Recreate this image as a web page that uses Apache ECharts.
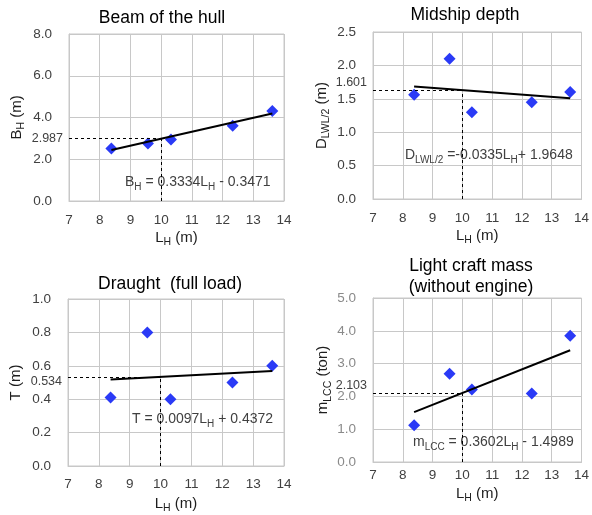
<!DOCTYPE html>
<html><head><meta charset="utf-8">
<script src="https://cdn.jsdelivr.net/npm/echarts@6/dist/echarts.min.js"></script>
<style>html,body{margin:0;padding:0;background:#fff}#c{width:592px;height:515px}</style>
</head><body><div id="c"></div>
<script>
// ---- data ----
const lengthH  = [8.38, 9.57, 10.32, 12.33, 13.62];      // L_H (m)
const beamH    = [2.52, 2.76, 2.95, 3.60, 4.31];          // B_H (m)
const depthD   = [1.56, 2.10, 1.30, 1.45, 1.60];          // D_LWL/2 (m)
const draughtT = [0.41, 0.80, 0.40, 0.50, 0.60];          // T (m)
const massLCC  = [1.12, 2.69, 2.21, 2.09, 3.85];          // m_LCC (ton)
const slopes     = [0.3334, -0.0335, 0.0097, 0.3602];
const intercepts = [-0.3471, 1.9648, 0.4372, -1.4989];
const refLength  = 10;
const refLabels  = ['2.987', '1.601', '0.534', '2.103'];
const titles = ['Beam of the hull', 'Midship depth', 'Draught  (full load)', 'Light craft mass\n(without engine)'];
const yMax  = [8, 2.5, 1, 5];
const yStep = [2, 0.5, 0.2, 1];
const xMin = 7, xMax = 14, xStep = 1;
const yNames = ['{m|B}{s|H}{m| (m)}', '{m|D}{s|LWL/2}{m| (m)}', '{m|T (m)}', '{m|m}{s|LCC}{m| (ton)}'];
const xName = '{m|L}{s|H}{m| (m)}';
const equations = [
  '{m|B}{s|H}{m| = 0.3334L}{s|H}{m| - 0.3471}',
  '{m|D}{s|LWL/2}{m| =-0.0335L}{s|H}{m|+ 1.9648}',
  '{m|T = 0.0097L}{s|H}{m| + 0.4372}',
  '{m|m}{s|LCC}{m| = 0.3602L}{s|H}{m| - 1.4989}'
];
const yData = [beamH, depthD, draughtT, massLCC];

// ---- layout / style ----
const FONT = "'Liberation Sans', Arial, sans-serif";
const grids = [
  {left: 69,  top: 34,  width: 215, height: 167},
  {left: 373, top: 32,  width: 211, height: 167},
  {left: 68,  top: 299, width: 216, height: 167},
  {left: 373, top: 298, width: 214, height: 164}
];
const titlePos = [[162, 8], [465, 5], [170, 274], [471, 256]];
const eqPos = [[125, 182], [405, 155], [132, 419], [413, 442]];
const refOffset = [0, -8, 5, -7];
const xLabelMargin = [12, 12, 11, 6];
const xNameGap = [27, 27, 28, 22];
const yNameGap = [42, 41, 42, 38];
const yLabelColor = ['#404040', '#404040', '#404040', '#8a8a8a'];
const GRID = '#c8c8c8';
const nameRich = {
  m: {fontSize: 15, fontFamily: FONT, color: '#1e1e1e', lineHeight: 20},
  s: {fontSize: 10.5, fontFamily: FONT, color: '#1e1e1e', lineHeight: 11, verticalAlign: 'bottom'}
};
const eqRich = {
  m: {fontSize: 14, fontFamily: FONT, fill: '#404040', lineHeight: 20},
  s: {fontSize: 10, fontFamily: FONT, fill: '#404040', lineHeight: 10, verticalAlign: 'bottom'}
};

const chart = echarts.init(document.getElementById('c'), null, {renderer: 'canvas'});
const xAxes = [], yAxes = [], series = [];
for (let i = 0; i < 4; i++) {
  xAxes.push({
    gridIndex: i, type: 'value', min: xMin, max: xMax, interval: xStep,
    axisLine: {show: true, lineStyle: {color: GRID}},
    axisTick: {show: false},
    splitLine: {show: true, lineStyle: {color: GRID, width: 1}},
    axisLabel: {color: '#404040', fontSize: 13.5, fontFamily: FONT, margin: xLabelMargin[i]},
    name: xName, nameLocation: 'middle', nameGap: xNameGap[i],
    nameTextStyle: {rich: nameRich}
  });
  yAxes.push({
    gridIndex: i, type: 'value', min: 0, max: yMax[i], interval: yStep[i],
    axisLine: {show: true, lineStyle: {color: GRID}},
    axisTick: {show: false},
    splitLine: {show: true, lineStyle: {color: GRID, width: 1}},
    axisLabel: {color: yLabelColor[i], fontSize: 13.5, fontFamily: FONT, margin: 17,
                formatter: v => v.toFixed(1)},
    name: yNames[i], nameLocation: 'middle', nameGap: yNameGap[i], nameRotate: 90,
    nameTextStyle: {rich: nameRich}
  });
  const a = slopes[i], b = intercepts[i];
  const lo = Math.min(...lengthH), hi = Math.max(...lengthH);
  const refV = a * refLength + b;
  series.push({
    type: 'line', xAxisIndex: i, yAxisIndex: i, data: [], silent: true,
    markLine: {
      silent: true, symbol: 'none', animation: false,
      label: {show: false},
      lineStyle: {color: '#000', type: [3, 3], width: 1},
      data: [
        [{coord: [xMin, refV]}, {coord: [refLength, refV]}],
        [{coord: [refLength, 0]}, {coord: [refLength, refV]}]
      ]
    }
  });
  series.push({
    type: 'scatter', xAxisIndex: i, yAxisIndex: i, z: 2,
    symbol: 'diamond', symbolSize: 12,
    itemStyle: {color: '#2a3af6', opacity: 1},
    data: lengthH.map((x, k) => [x, yData[i][k]])
  });
  series.push({
    type: 'line', xAxisIndex: i, yAxisIndex: i, z: 3,
    showSymbol: false, symbol: 'none',
    lineStyle: {color: '#000', width: 2},
    data: [[lo, a * lo + b], [hi, a * hi + b]]
  });
}

chart.setOption({
  animation: false,
  backgroundColor: '#fff',
  grid: grids.map(g => Object.assign({show: true, borderColor: GRID, borderWidth: 1, backgroundColor: 'transparent'}, g)),
  xAxis: xAxes, yAxis: yAxes, series: series
});

const graphics = [];
for (let i = 0; i < 4; i++) {
  graphics.push({
    type: 'text', x: titlePos[i][0], y: titlePos[i][1], silent: true,
    style: {text: titles[i], fontSize: 17.5, fontFamily: FONT, fill: '#000',
            align: 'center', verticalAlign: 'top', lineHeight: 21}
  });
  graphics.push({
    type: 'text', x: eqPos[i][0], y: eqPos[i][1], silent: true,
    style: {text: equations[i], rich: eqRich, align: 'left', verticalAlign: 'middle'}
  });
  const refV = slopes[i] * refLength + intercepts[i];
  const p = chart.convertToPixel({gridIndex: i}, [xMin, refV]);
  graphics.push({
    type: 'text', x: p[0] - 6, y: p[1] + refOffset[i], silent: true,
    style: {text: refLabels[i], fontSize: 12.5, fontFamily: FONT, fill: '#404040',
            align: 'right', verticalAlign: 'middle'}
  });
}
chart.setOption({graphic: graphics});
</script></body></html>
